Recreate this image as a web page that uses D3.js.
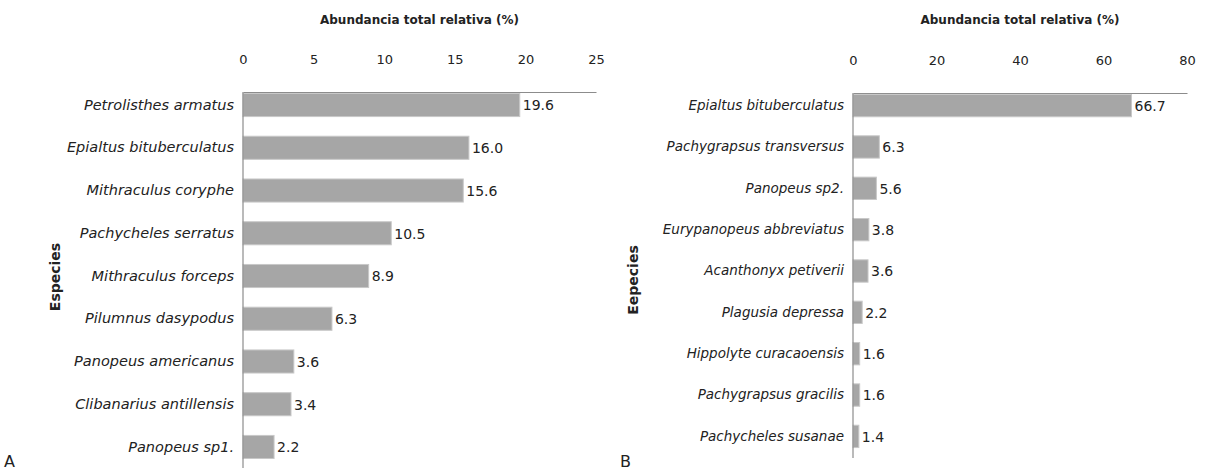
<!DOCTYPE html>
<html>
<head>
<meta charset="utf-8">
<script src="https://cdn.jsdelivr.net/npm/d3@7"></script>
<style>
  body { margin: 0; background: #fff; }
  text { font-family: Verdana, "DejaVu Sans", sans-serif; fill: #222; }
</style>
</head>
<body>
<svg id="chart" width="1206" height="471"></svg>
<script>
// panel A
const speciesA = ["Petrolisthes armatus", "Epialtus bituberculatus", "Mithraculus coryphe",
  "Pachycheles serratus", "Mithraculus forceps", "Pilumnus dasypodus",
  "Panopeus americanus", "Clibanarius antillensis", "Panopeus sp1."];
const valuesA = [19.6, 16.0, 15.6, 10.5, 8.9, 6.3, 3.6, 3.4, 2.2];
const ticksA = [0, 5, 10, 15, 20, 25];

// panel B
const speciesB = ["Epialtus bituberculatus", "Pachygrapsus transversus", "Panopeus sp2.",
  "Eurypanopeus abbreviatus", "Acanthonyx petiverii", "Plagusia depressa",
  "Hippolyte curacaoensis", "Pachygrapsus gracilis", "Pachycheles susanae"];
const valuesB = [66.7, 6.3, 5.6, 3.8, 3.6, 2.2, 1.6, 1.6, 1.4];
const ticksB = [0, 20, 40, 60, 80];

const svg = d3.select("#chart")

const barFill = "#a6a6a6"
const axisColor = "#8c8c8c"

function panel(opt) {
  const g = svg.append("g")

  const x = d3.scaleLinear()
    .domain([0, d3.max(opt.ticks)])
    .range([opt.x0, opt.x1])

  // bars sit near the top of the category axis, like the original
  const y = d3.scaleBand()
    .domain(opt.cats)
    .range([opt.top, opt.barEnd])
    .paddingInner(0.46)
    .paddingOuter(0.035)

  // top axis
  const xAxis = g.append("g")
    .attr("transform", "translate(0," + opt.top + ")")
    .call(d3.axisTop(x).tickValues(opt.ticks).tickSize(0).tickPadding(28).tickFormat(d3.format("d")))
  xAxis.select(".domain").attr("stroke", axisColor).attr("stroke-width", 1.2)
  xAxis.selectAll("text").style("font-size", "13px").attr("fill", "#222")

  // bars
  g.selectAll("rect.bar")
    .data(opt.vals)
    .join("rect")
    .attr("class", "bar")
    .attr("x", x(0))
    .attr("y", (d, i) => y(opt.cats[i]))
    .attr("width", d => x(d) - x(0))
    .attr("height", y.bandwidth())
    .attr("fill", barFill)
    .attr("stroke", "#c8c8c8")
    .attr("stroke-width", 1)

  // value labels
  g.selectAll("text.val")
    .data(opt.vals)
    .join("text")
    .attr("class", "val")
    .attr("x", d => x(d) + 3)
    .attr("y", (d, i) => y(opt.cats[i]) + y.bandwidth() / 2)
    .attr("dy", "0.38em")
    .style("font-size", "14px")
    .text(d => d.toFixed(1))

  // category axis
  const yAxis = g.append("g")
    .attr("transform", "translate(" + opt.x0 + ",0)")
    .call(d3.axisLeft(y).tickSize(0).tickPadding(9))
  yAxis.select(".domain").remove()
  yAxis.selectAll("text")
    .style("font-size", opt.catSize)
    .style("font-style", "italic")
    .attr("fill", "#222")

  g.append("line")
    .attr("x1", opt.x0).attr("x2", opt.x0)
    .attr("y1", opt.top).attr("y2", opt.bottom)
    .attr("stroke", axisColor)
    .attr("stroke-width", 1.2)

  // titles
  g.append("text")
    .attr("x", (opt.x0 + opt.x1) / 2)
    .attr("y", 24)
    .attr("text-anchor", "middle")
    .style("font-size", "12px")
    .style("font-weight", "bold")
    .text("Abundancia total relativa (%)")

  g.append("text")
    .attr("transform", "translate(" + opt.ytx + "," + opt.yty + ") rotate(-90)")
    .attr("text-anchor", "middle")
    .style("font-size", "14px")
    .style("font-weight", "bold")
    .text(opt.ytitle)

  g.append("text")
    .attr("x", opt.lx)
    .attr("y", 467)
    .style("font-size", "16px")
    .text(opt.letter)
}

panel({ cats: speciesA, vals: valuesA, ticks: ticksA, x0: 243, x1: 596,
  top: 92, barEnd: 460, bottom: 468, catSize: "14.5px",
  ytitle: "Especies", ytx: 60, yty: 277, letter: "A", lx: 4 })

panel({ cats: speciesB, vals: valuesB, ticks: ticksB, x0: 853, x1: 1187,
  top: 93, barEnd: 449, bottom: 458, catSize: "13.5px",
  ytitle: "Eepecies", ytx: 638, yty: 280, letter: "B", lx: 620 })
</script>
</body>
</html>
